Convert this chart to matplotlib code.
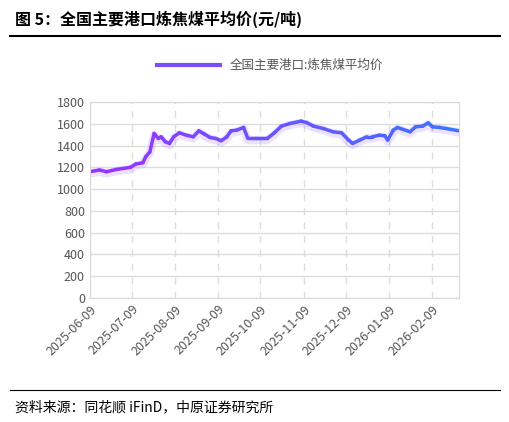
import numpy as np
import pandas as pd
import matplotlib
matplotlib.use("Agg")
import matplotlib.pyplot as plt
import matplotlib.dates as mdates
from matplotlib.collections import LineCollection
from matplotlib.colors import LinearSegmentedColormap
from matplotlib.lines import Line2D

plt.rcParams["font.family"] = ["Noto Sans CJK SC", "DejaVu Sans"]

DATES = ["2025-06-09", "2025-06-16", "2025-06-21", "2025-06-28", "2025-07-08", "2025-07-12",
         "2025-07-17", "2025-07-19", "2025-07-22", "2025-07-25", "2025-07-28", "2025-07-30",
         "2025-08-02", "2025-08-05", "2025-08-08", "2025-08-12", "2025-08-17", "2025-08-22",
         "2025-08-26", "2025-08-30", "2025-09-03", "2025-09-07", "2025-09-11", "2025-09-15",
         "2025-09-18", "2025-09-22", "2025-09-27", "2025-09-30", "2025-10-06", "2025-10-14",
         "2025-10-19", "2025-10-24", "2025-10-30", "2025-11-07", "2025-11-11", "2025-11-16",
         "2025-11-23", "2025-11-30", "2025-12-06", "2025-12-11", "2025-12-14", "2025-12-19",
         "2025-12-24", "2025-12-28", "2026-01-02", "2026-01-06", "2026-01-08", "2026-01-12",
         "2026-01-15", "2026-01-19", "2026-01-24", "2026-01-28", "2026-02-02", "2026-02-06",
         "2026-02-09", "2026-02-14", "2026-02-19", "2026-02-28"]
PRICE = [1160, 1176, 1160, 1181, 1200, 1231, 1243, 1297, 1343, 1512, 1466, 1481,
         1436, 1420, 1481, 1518, 1496, 1481, 1536, 1506, 1475, 1466, 1445, 1481,
         1536, 1542, 1567, 1466, 1466, 1466, 1518, 1579, 1603, 1625, 1612, 1579,
         1557, 1527, 1518, 1451, 1420, 1451, 1481, 1481, 1496, 1490, 1451, 1542,
         1567, 1549, 1527, 1573, 1579, 1609, 1573, 1567, 1557, 1536]
TICKS = ["2025-06-09", "2025-07-09", "2025-08-09", "2025-09-09", "2025-10-09",
         "2025-11-09", "2025-12-09", "2026-01-09", "2026-02-09"]
TITLE = "图 5：全国主要港口炼焦煤平均价(元/吨)"
SERIES = "全国主要港口:炼焦煤平均价"
SOURCE = "资料来源：同花顺 iFinD，中原证券研究所"

dates = pd.to_datetime(DATES)
x = mdates.date2num(dates)
y = np.array(PRICE, dtype=float)

cmap = LinearSegmentedColormap.from_list("pb", ["#9933ff", "#3d72ff"])

fig = plt.figure(figsize=(5.10, 4.22), dpi=100)
fig.text(0.03, 0.955, TITLE, fontsize=11.5, fontweight="bold", va="center")
fig.add_artist(Line2D([0.02, 0.98], [0.915, 0.915], color="black", lw=1.5))
fig.add_artist(Line2D([0.02, 0.98], [0.075, 0.075], color="black", lw=0.8))
fig.text(0.03, 0.035, SOURCE, fontsize=10, va="center")

ax = fig.add_axes([0.176, 0.294, 0.724, 0.464])
# soft glow
ax.plot(x, y - 15, color="#b48cff", lw=6, alpha=0.25, solid_capstyle="round")
pts = np.array([x, y]).T.reshape(-1, 1, 2)
segs = np.concatenate([pts[:-1], pts[1:]], axis=1)
lc = LineCollection(segs, cmap=cmap, linewidth=2.5, capstyle="round", joinstyle="round")
lc.set_array(np.linspace(0, 1, len(segs)))
ax.add_collection(lc)

ax.set_xlim(x[0], x[-1])
ax.set_ylim(0, 1800)
ax.set_yticks(range(0, 1801, 200))
ax.set_xticks(mdates.date2num(pd.to_datetime(TICKS)))
ax.set_xticklabels(TICKS, rotation=45, ha="right", rotation_mode="anchor")
ax.tick_params(labelsize=9, colors="#555555", length=0)
ax.grid(axis="y", color="#dddddd", lw=1)
ax.grid(axis="x", color="#dddddd", lw=1, ls=(0, (5, 5)))
for s in ax.spines.values():
    s.set_color("#d9d9d9")

handle = Line2D([], [], color="#7a4dff", lw=3)
fig.legend([handle], [SERIES], loc="center", bbox_to_anchor=(0.53, 0.845),
           frameon=False, fontsize=9, labelcolor="#555555", handlelength=5)

fig.savefig("out.png", dpi=100)
